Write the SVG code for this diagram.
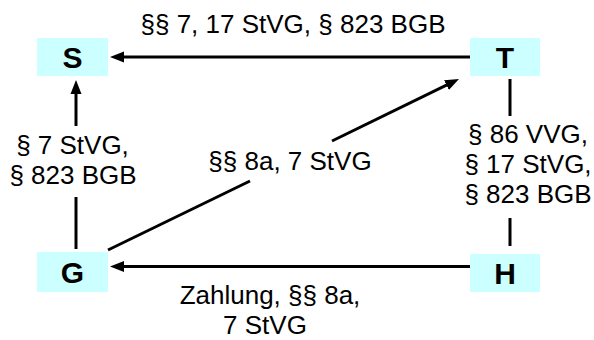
<svg xmlns="http://www.w3.org/2000/svg" width="594" height="340" viewBox="0 0 594 340">
<style>
.box{fill:#CCFFFF;stroke:none}
.nl{font-family:"Liberation Sans",Arial,sans-serif;font-weight:bold;font-size:30px;fill:#000;text-anchor:middle}
.lb{font-family:"Liberation Sans",Arial,sans-serif;font-size:26px;fill:#000;text-anchor:middle}
.ln{stroke:#000;stroke-width:3;fill:none}
</style>
<defs>
<marker id="ah" markerUnits="userSpaceOnUse" markerWidth="14" markerHeight="12" refX="8" refY="5.5" orient="auto" viewBox="0 0 14 11">
<path d="M0,0 L14,5.5 L0,11 z" fill="#000"/>
</marker>
</defs>
<g id="connectors">
<line class="ln" x1="470" y1="57" x2="116" y2="57" marker-end="url(#ah)"/>
<line class="ln" x1="76" y1="126" x2="76" y2="86" marker-end="url(#ah)"/>
<line class="ln" x1="76" y1="197" x2="76" y2="249"/>
<line class="ln" x1="108" y1="250" x2="250" y2="181"/>
<line class="ln" x1="332" y1="141" x2="453.6" y2="81.6" marker-end="url(#ah)"/>
<line class="ln" x1="510" y1="79" x2="510" y2="116"/>
<line class="ln" x1="510" y1="218" x2="510" y2="246"/>
<line class="ln" x1="470" y1="266.5" x2="116" y2="266.5" marker-end="url(#ah)"/>
</g>
<g id="labels">
<text class="lb" x="293" y="33">§§ 7, 17 StVG, § 823 BGB</text>
<text class="lb" x="72.5" y="154">§ 7 StVG,</text>
<text class="lb" x="73" y="184">§ 823 BGB</text>
<text class="lb" x="290" y="170">§§ 8a, 7 StVG</text>
<text class="lb" x="528" y="143">§ 86 VVG,</text>
<text class="lb" x="528" y="173">§ 17 StVG,</text>
<text class="lb" x="528" y="203">§ 823 BGB</text>
<text class="lb" x="270" y="304">Zahlung, §§ 8a,</text>
<text class="lb" x="265" y="334">7 StVG</text>
</g>
<g id="node-S"><rect class="box" x="37" y="38" width="71" height="38"/><text class="nl" x="72.5" y="68">S</text></g>
<g id="node-T"><rect class="box" x="470" y="38" width="70" height="38"/><text class="nl" x="505" y="68">T</text></g>
<g id="node-G"><rect class="box" x="37" y="252" width="71" height="40"/><text class="nl" x="72.5" y="283">G</text></g>
<g id="node-H"><rect class="box" x="470" y="254" width="70" height="38"/><text class="nl" x="505" y="284">H</text></g>
</svg>
